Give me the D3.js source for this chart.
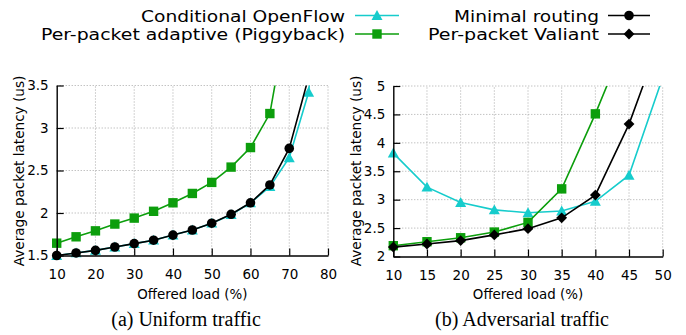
<!DOCTYPE html>
<html>
<head>
<meta charset="utf-8">
<script src="https://cdn.jsdelivr.net/npm/d3@7"></script>
<style>
  html, body { margin: 0; padding: 0; background: #fff; }
  svg { display: block; font-family: "DejaVu Sans", sans-serif; }
  text { fill: #000; }
</style>
</head>
<body>
<svg id="chart" width="686" height="335"></svg>
<script>
// ---------------- Data ----------------
// (a) Uniform traffic
const loadUniform       = [10, 15, 20, 25, 30, 35, 40, 45, 50, 55, 60, 65, 70, 75, 80];
const openflowUniform   = [1.50, 1.53, 1.56, 1.60, 1.64, 1.68, 1.74, 1.80, 1.88, 1.98, 2.12, 2.31, 2.65, 3.42, 6.0];
const piggybackUniform  = [1.645, 1.72, 1.79, 1.87, 1.94, 2.02, 2.12, 2.23, 2.36, 2.54, 2.77, 3.17, 4.45];
const minimalUniform    = [1.50, 1.53, 1.56, 1.60, 1.64, 1.68, 1.74, 1.80, 1.88, 1.985, 2.12, 2.33, 2.76, 3.6];
const xTicksUniform     = [10, 20, 30, 40, 50, 60, 70, 80];
const yTicksUniform     = [1.5, 2, 2.5, 3, 3.5];

// (b) Adversarial traffic
const loadAdversarial      = [10, 15, 20, 25, 30, 35, 40, 45, 50];
const openflowAdversarial  = [3.82, 3.22, 2.95, 2.82, 2.77, 2.80, 2.97, 3.43, 5.15];
const piggybackAdversarial = [2.19, 2.26, 2.33, 2.43, 2.60, 3.19, 4.51, 5.95];
const valiantAdversarial   = [2.165, 2.22, 2.28, 2.38, 2.49, 2.68, 3.08, 4.33, 5.95];
const xTicksAdversarial    = [10, 15, 20, 25, 30, 35, 40, 45, 50];
const yTicksAdversarial    = [2, 2.5, 3, 3.5, 4, 4.5, 5];

const seriesNames = ["Conditional OpenFlow", "Per-packet adaptive (Piggyback)", "Minimal routing", "Per-packet Valiant"];
const xTitle = "Offered load (%)";
const yTitle = "Average packet latency (us)";
const captions = ["(a) Uniform traffic", "(b) Adversarial traffic"];

// ---------------- Styles ----------------
const COLORS = { openflow: "#16cccc", piggy: "#0c9e0c", black: "#000000" };
const svg = d3.select("#chart");

function drawMarker(g, type, x, y, color) {
  if (type === "circle") {
    g.append("circle").attr("cx", x).attr("cy", y).attr("r", 4.8).attr("fill", color);
  } else if (type === "square") {
    g.append("rect").attr("x", x - 4.7).attr("y", y - 4.7).attr("width", 9.4).attr("height", 9.4).attr("fill", color);
  } else if (type === "triangle") {
    const s = 5.5;
    g.append("path").attr("d", `M${x},${y - s}L${x + s},${y + s * 0.8}L${x - s},${y + s * 0.8}Z`).attr("fill", color);
  } else if (type === "diamond") {
    const s = 5.4;
    g.append("path").attr("d", `M${x},${y - s}L${x + s},${y}L${x},${y + s}L${x - s},${y}Z`).attr("fill", color);
  }
}

function panel(cfg) {
  const x = d3.scaleLinear().domain(cfg.xDomain).range([cfg.left, cfg.right]);
  const y = d3.scaleLinear().domain(cfg.yDomain).range([cfg.bottom, cfg.top]);
  const g = svg.append("g");

  // grid
  const grid = g.append("g").attr("stroke", "#a8a8a8").attr("stroke-width", 1).attr("stroke-dasharray", "1,2");
  cfg.xTicks.forEach(t => {
    if (t === cfg.xDomain[0]) return;
    grid.append("line").attr("x1", x(t)).attr("x2", x(t)).attr("y1", cfg.bottom).attr("y2", cfg.top);
  });
  cfg.yTicks.forEach(t => {
    if (t === cfg.yDomain[0]) return;
    grid.append("line").attr("x1", cfg.left).attr("x2", cfg.right).attr("y1", y(t)).attr("y2", y(t));
  });

  // clip
  const clipId = "clip" + cfg.id;
  svg.append("clipPath").attr("id", clipId).append("rect")
    .attr("x", cfg.left).attr("y", cfg.top)
    .attr("width", cfg.right - cfg.left).attr("height", cfg.bottom - cfg.top);

  const line = d3.line().x(d => x(d[0])).y(d => y(d[1]));
  const dataG = g.append("g");
  cfg.series.forEach(s => {
    const pts = s.values.map((v, i) => [s.xs[i], v]);
    dataG.append("path").datum(pts).attr("d", line)
      .attr("fill", "none").attr("stroke", s.color).attr("stroke-width", 1.6)
      .attr("clip-path", `url(#${clipId})`);
    const mg = dataG.append("g");
    pts.forEach(p => {
      if (p[1] >= cfg.yDomain[0] - 1e-9 && p[1] <= cfg.yDomain[1] + 1e-9) {
        drawMarker(mg, s.marker, x(p[0]), y(p[1]), s.color);
      }
    });
  });

  // axes
  const xAxis = d3.axisBottom(x).tickValues(cfg.xTicks).tickFormat(d3.format("d"))
    .tickSizeInner(-7).tickSizeOuter(0).tickPadding(14);
  const yAxis = d3.axisLeft(y).tickValues(cfg.yTicks).tickFormat(d => String(d))
    .tickSizeInner(-7).tickSizeOuter(0).tickPadding(8);
  const ax = g.append("g").attr("transform", `translate(0,${cfg.bottom})`).call(xAxis);
  const ay = g.append("g").attr("transform", `translate(${cfg.left},0)`).call(yAxis);
  [ax, ay].forEach(a => {
    a.attr("font-family", null).attr("font-size", null);
    a.select(".domain").attr("stroke", "#000").attr("stroke-width", 1.4);
    a.selectAll(".tick line").attr("stroke", "#000").attr("stroke-width", 1.2);
    a.selectAll(".tick text").style("font-family", "DejaVu Sans").style("font-size", "13.5px").attr("fill", "#000");
  });
  // axis titles
  g.append("text").attr("x", (cfg.left + cfg.right) / 2).attr("y", 298.5)
    .attr("text-anchor", "middle").style("font-size", "13.4px").text(xTitle);
  g.append("text").attr("transform", `translate(${cfg.left - 32.5},171) rotate(-90)`)
    .attr("text-anchor", "middle").style("font-size", "13.6px").text(yTitle);
  // caption
  g.append("text").attr("x", cfg.captionX).attr("y", 326)
    .attr("text-anchor", "middle")
    .style("font-family", "'Liberation Serif', 'Times New Roman', serif")
    .style("font-size", "20px").text(cfg.caption);
}

panel({
  id: "a", left: 56.7, right: 328, top: 85.5, bottom: 255.5,
  xDomain: [10, 80], yDomain: [1.5, 3.5],
  xTicks: xTicksUniform, yTicks: yTicksUniform,
  caption: captions[0], captionX: 186,
  series: [
    { xs: loadUniform, values: openflowUniform, color: COLORS.openflow, marker: "triangle" },
    { xs: loadUniform, values: piggybackUniform, color: COLORS.piggy, marker: "square" },
    { xs: loadUniform, values: minimalUniform, color: COLORS.black, marker: "circle" }
  ]
});

panel({
  id: "b", left: 393.3, right: 662.7, top: 86, bottom: 256.5,
  xDomain: [10, 50], yDomain: [2, 5],
  xTicks: xTicksAdversarial, yTicks: yTicksAdversarial,
  caption: captions[1], captionX: 522,
  series: [
    { xs: loadAdversarial, values: openflowAdversarial, color: COLORS.openflow, marker: "triangle" },
    { xs: loadAdversarial, values: piggybackAdversarial, color: COLORS.piggy, marker: "square" },
    { xs: loadAdversarial, values: valiantAdversarial, color: COLORS.black, marker: "diamond" }
  ]
});

// ---------------- Legend ----------------
const legendItems = [
  { name: seriesNames[0], color: COLORS.openflow, marker: "triangle", textX: 345, width: 204, lineX: [355, 399], y: 15.5 },
  { name: seriesNames[1], color: COLORS.piggy, marker: "square", textX: 345, width: 304, lineX: [355, 399], y: 34 },
  { name: seriesNames[2], color: COLORS.black, marker: "circle", textX: 599, width: 145, lineX: [608, 650], y: 15.5 },
  { name: seriesNames[3], color: COLORS.black, marker: "diamond", textX: 599, width: 171, lineX: [608, 650], y: 34 }
];
const lg = svg.append("g");
legendItems.forEach(it => {
  lg.append("text").attr("x", it.textX).attr("y", it.y + 6.3)
    .attr("text-anchor", "end").style("font-size", "16.5px")
    .attr("textLength", it.width).attr("lengthAdjust", "spacingAndGlyphs")
    .text(it.name);
  lg.append("line").attr("x1", it.lineX[0]).attr("x2", it.lineX[1]).attr("y1", it.y).attr("y2", it.y)
    .attr("stroke", it.color).attr("stroke-width", 1.6);
  drawMarker(lg, it.marker, (it.lineX[0] + it.lineX[1]) / 2, it.y, it.color);
});
</script>
</body>
</html>
